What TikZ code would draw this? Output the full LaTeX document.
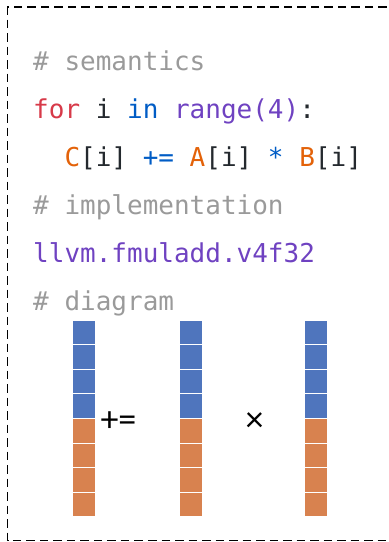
\documentclass[tikz,border=0pt]{standalone}
\usepackage{fontspec}
\newfontfamily\codefont{DejaVu Sans Mono}
\newfontfamily\opfont{Carlito}
\definecolor{cmtgray}{HTML}{9A9A9A}
\definecolor{kwred}{HTML}{D73A49}
\definecolor{kwblue}{HTML}{005CC5}
\definecolor{fnpurple}{HTML}{6F42C1}
\definecolor{varorange}{HTML}{E36209}
\definecolor{plain}{HTML}{24292E}
\definecolor{laneblue}{RGB}{79,117,189}
\definecolor{laneorange}{RGB}{216,130,79}
\tikzset{
  codeline/.style={anchor=base west, inner sep=0pt, text=plain,
    font=\codefont\fontsize{26}{30}\selectfont},
  opsym/.style={inner sep=0pt, text=black, font=\opfont\fontsize{36}{40}\selectfont},
  frame/.style={draw=black, line width=1.5pt, dash pattern=on 8.5pt off 5pt},
  lane/.style={draw=white, line width=1pt},
}
\begin{document}
\begin{tikzpicture}[x=1pt,y=-1pt]
\useasboundingbox (0,0) rectangle (389,542);
\clip (0,0) rectangle (389,542);

% dashed frame, open towards the right
\draw[frame] (400,7) -- (7.5,7) -- (7.5,540.5) -- (400,540.5);

% code listing
\node[codeline] (l1) at (33,70)  {\textcolor{cmtgray}{\# semantics}};
\node[codeline] (l2) at (33,118) {\textcolor{kwred}{for} i \textcolor{kwblue}{in} \textcolor{fnpurple}{range(4)}:};
\node[codeline] (l3) at (33,166) {\hphantom{xx}\textcolor{varorange}{C}[i] \textcolor{kwblue}{+=} \textcolor{varorange}{A}[i] \textcolor{kwblue}{*} \textcolor{varorange}{B}[i]};
\node[codeline] (l4) at (33,214) {\textcolor{cmtgray}{\# implementation}};
\node[codeline] (l5) at (33,262) {\textcolor{fnpurple}{llvm.fmuladd.v4f32}};
\node[codeline] (l6) at (33,310) {\textcolor{cmtgray}{\# diagram}};

% vector lanes: four blue cells over four orange cells
\foreach \x in {72,179,304}{
  \foreach \k in {0,...,7}{
    \pgfmathsetmacro{\ytop}{320+24.6*\k}
    \ifnum\k<4
      \filldraw[lane, fill=laneblue] (\x,\ytop) rectangle ++(23.6,24.6);
    \else
      \filldraw[lane, fill=laneorange] (\x,\ytop) rectangle ++(23.6,24.6);
    \fi
  }
}

% operators between the lanes
\node[opsym] (acc) at (118.5,422) {+=};
\node[opsym] (mul) at (254.5,422) {×};
\end{tikzpicture}
\end{document}
